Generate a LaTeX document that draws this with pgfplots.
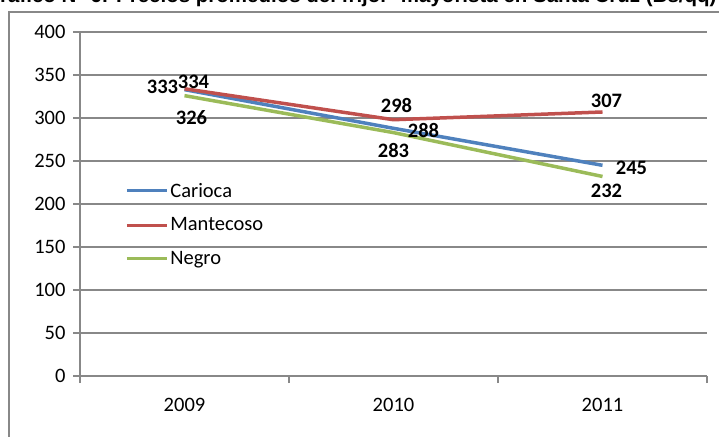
\documentclass[border=0pt]{standalone}
\usepackage{pgfplots}
\pgfplotsset{compat=1.18}
\usepackage{fontspec}
\setmainfont{Carlito}
\newfontfamily\titlefont{Liberation Sans}
\definecolor{cblue}{HTML}{4F81BD}
\definecolor{cred}{HTML}{C0504D}
\definecolor{cgreen}{HTML}{9BBB59}
\definecolor{gridc}{HTML}{888888}
\begin{document}
\begin{tikzpicture}[x=1pt,y=1pt]
\useasboundingbox (0pt,0pt) rectangle (719pt,436pt);
\clip (0pt,0pt) rectangle (719pt,436pt);
\draw[gridc, line width=1.2pt] (9pt,-10pt) -- (9pt,424pt) -- (740pt,424pt);
\node[anchor=base west, inner sep=0pt, font=\titlefont\bfseries\fontsize{20.5}{23}\selectfont] at (-16pt,433pt) {Gráfico N° 6: Precios promedios del frijol \ \,mayorista en Santa Cruz (Bs/qq)};
\begin{axis}[
  at={(80pt,60pt)}, anchor=south west,
  scale only axis, width=627pt, height=344pt,
  xmin=0.5, xmax=3.5, ymin=0, ymax=400,
  ytick={0,50,...,400},
  xtick={0.5,1.5,2.5,3.5},
  xticklabels={2009,2010,2011,{}},
  x tick label style={xshift=104.5pt, yshift=-12pt},
  y tick label style={xshift=-4pt},
  axis x line*=bottom, axis y line*=left,
  axis line style={gridc, line width=1.2pt, -},
  tick align=outside, major tick length=7pt,
  tick style={gridc, line width=1.2pt},
  ymajorgrids, grid style={gridc, line width=1.2pt},
  every tick label/.append style={font=\fontsize{20.5}{23}\selectfont},
  /pgf/number format/assume math mode=true,
  nodes near coords,
  visualization depends on={value \thisrow{dx}\as\dx},
  visualization depends on={value \thisrow{dy}\as\dy},
  every node near coord/.append style={anchor=center, xshift=\dx pt, yshift=\dy pt, black, font=\bfseries\fontsize{20.5}{23}\selectfont},
  legend style={draw=none, fill=none, at={(0.072,0.567)}, anchor=north west, inner sep=0pt,
    font=\fontsize{20.5}{23}\selectfont, row sep=15pt},
  legend cell align=left,
  legend image code/.code={\draw[#1, line width=3pt] (0pt,0pt) -- (40pt,0pt);},
]
\addplot[cblue, line width=3.5pt, mark=none] table {
x y dx dy
1 333 -22 3
2 288 30 -2
3 245 29 -3
};
\addlegendentry{Carioca}
\addplot[cred, line width=3.5pt, mark=none] table {
x y dx dy
1 334 9 7
2 298 3 14
3 307 4 11
};
\addlegendentry{Mantecoso}
\addplot[cgreen, line width=3.5pt, mark=none] table {
x y dx dy
1 326 7 -22
2 283 0 -18
3 232 4 -14
};
\addlegendentry{Negro}
\end{axis}
\end{tikzpicture}
\end{document}
